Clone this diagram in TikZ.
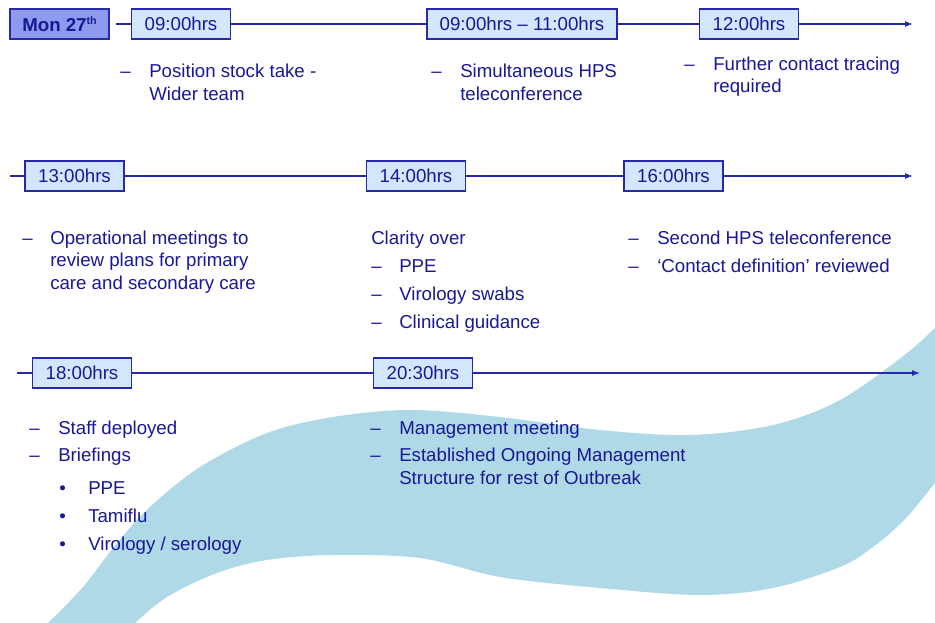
\documentclass[tikz,border=0pt]{standalone}
\usepackage{fontspec}
\setmainfont{Liberation Sans}
\usetikzlibrary{arrows.meta}
\definecolor{txtblue}{RGB}{24,24,150}
\definecolor{lineblue}{RGB}{40,40,170}
\definecolor{boxfill}{RGB}{210,230,252}
\definecolor{monfill}{RGB}{140,155,235}
\definecolor{swooshblue}{RGB}{176,217,231}
\begin{document}
\begin{tikzpicture}[x=0.75pt,y=-0.75pt,
  font=\fontsize{14}{17}\selectfont, text=txtblue,
  timebox/.style={draw=lineblue, line width=0.9pt, fill=boxfill, minimum width=74.25pt, minimum height=22.5pt, inner sep=0pt},
  monbox/.style={timebox, fill=monfill, font=\fontsize{14}{17}\selectfont\bfseries},
  tl/.style={draw=lineblue, line width=0.9pt},
  tlarrow/.style={tl, -{Latex[length=6pt,width=4.5pt]}},
  txt/.style={anchor=base west, inner sep=0pt},
]
\useasboundingbox (0,0) rectangle (935,623);
% background swoosh
\fill[swooshblue] plot[smooth, tension=0.55] coordinates {(48,623) (83,587) (117,543) (150,507) (200,467) (267,433) (333,417) (410,410) (500,417) (600,430) (690,435) (773,425) (840,400) (907,353) (945,318)}
  -- plot[smooth, tension=0.55] coordinates {(945,470) (907,517) (873,547) (840,567) (773,588) (700,595) (600,588) (500,577) (420,558) (333,555) (267,560) (217,573) (167,597) (135,623)} -- cycle;

% row 1
\node[monbox] (mon) at (59.5,24) {Mon 27\raisebox{0.75ex}{\fontsize{8}{8}\selectfont th}};
\node[timebox] (t0900) at (181,24) {09:00hrs};
\node[timebox, minimum width=142.5pt] (t0911) at (522,24) {09:00hrs – 11:00hrs};
\node[timebox] (t1200) at (749,24) {12:00hrs};
\coordinate (r1s) at (116,24);
\coordinate (r1e) at (913,24);
\draw[tl] (r1s) -- (t0900);
\draw[tl] (t0900) -- (t0911);
\draw[tl] (t0911) -- (t1200);
\draw[tlarrow] (t1200) -- (r1e);

\node[txt] (a1d) at (120,77.5) {–};
\node[txt] (a1a) at (149,77.5) {Position stock take -};
\node[txt] (a1b) at (149,100.5) {Wider team};
\node[txt] (b1d) at (431,77.5) {–};
\node[txt] (b1a) at (460,77.5) {Simultaneous HPS};
\node[txt] (b1b) at (460,100.5) {teleconference};
\node[txt] (c1d) at (684,70.5) {–};
\node[txt] (c1a) at (713,70.5) {Further contact tracing};
\node[txt] (c1b) at (713,92.5) {required};

% row 2
\node[timebox] (t1300) at (74.5,176) {13:00hrs};
\node[timebox] (t1400) at (416,176) {14:00hrs};
\node[timebox] (t1600) at (673.5,176) {16:00hrs};
\coordinate (r2s) at (10,176);
\coordinate (r2e) at (913,176);
\draw[tl] (r2s) -- (t1300);
\draw[tl] (t1300) -- (t1400);
\draw[tl] (t1400) -- (t1600);
\draw[tlarrow] (t1600) -- (r2e);

\node[txt] (a2d) at (22,244.5) {–};
\node[txt] (a2a) at (50,244.5) {Operational meetings to};
\node[txt] (a2b) at (50,266.5) {review plans for primary};
\node[txt] (a2c) at (50,289.5) {care and secondary care};
\node[txt] (b2h) at (371,244.5) {Clarity over};
\node[txt] (b2d1) at (371,272.5) {–};
\node[txt] (b2a) at (399,272.5) {PPE};
\node[txt] (b2d2) at (371,300.5) {–};
\node[txt] (b2b) at (399,300.5) {Virology swabs};
\node[txt] (b2d3) at (371,328.5) {–};
\node[txt] (b2c) at (399,328.5) {Clinical guidance};
\node[txt] (c2d1) at (628,244.5) {–};
\node[txt] (c2a) at (657,244.5) {Second HPS teleconference};
\node[txt] (c2d2) at (628,272.5) {–};
\node[txt] (c2b) at (657,272.5) {‘Contact definition’ reviewed};

% row 3
\node[timebox] (t1800) at (82,373) {18:00hrs};
\node[timebox] (t2030) at (423,373) {20:30hrs};
\coordinate (r3s) at (17,373);
\coordinate (r3e) at (920,373);
\draw[tl] (r3s) -- (t1800);
\draw[tl] (t1800) -- (t2030);
\draw[tlarrow] (t2030) -- (r3e);

\node[txt] (a3d1) at (29,434.5) {–};
\node[txt] (a3a) at (58,434.5) {Staff deployed};
\node[txt] (a3d2) at (29,461.5) {–};
\node[txt] (a3b) at (58,461.5) {Briefings};
\node[txt] (a3e1) at (59,494.5) {•};
\node[txt] (a3c) at (88,494.5) {PPE};
\node[txt] (a3e2) at (59,522.5) {•};
\node[txt] (a3f) at (88,522.5) {Tamiflu};
\node[txt] (a3e3) at (59,550.5) {•};
\node[txt] (a3g) at (88,550.5) {Virology / serology};
\node[txt] (b3d1) at (370,434.5) {–};
\node[txt] (b3a) at (399,434.5) {Management meeting};
\node[txt] (b3d2) at (370,461.5) {–};
\node[txt] (b3b) at (399,461.5) {Established Ongoing Management};
\node[txt] (b3c) at (399,484.5) {Structure for rest of Outbreak};
\end{tikzpicture}
\end{document}
